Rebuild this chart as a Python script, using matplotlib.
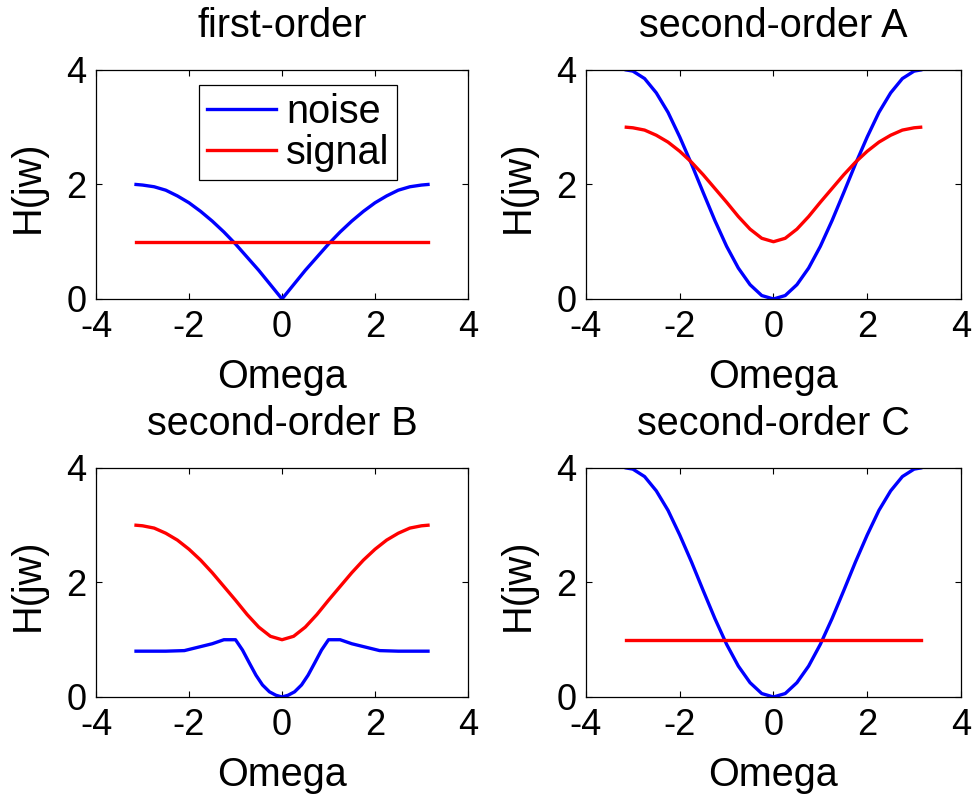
import matplotlib
matplotlib.use("Agg")
import matplotlib.pyplot as plt

plt.rcParams['font.family'] = ['Liberation Sans', 'DejaVu Sans']
plt.rcParams['axes.unicode_minus'] = False

# ---- data ----
omega = [-3.14, -3.0, -2.75, -2.5, -2.25, -2.0, -1.75, -1.5, -1.25, -1.0, -0.75, -0.5, -0.25, 0.0,
         0.25, 0.5, 0.75, 1.0, 1.25, 1.5, 1.75, 2.0, 2.25, 2.5, 2.75, 3.0, 3.14]

noise_first = [2.00, 1.99, 1.96, 1.90, 1.80, 1.68, 1.53, 1.36, 1.17, 0.96, 0.73, 0.50, 0.25, 0.00,
               0.25, 0.50, 0.73, 0.96, 1.17, 1.36, 1.53, 1.68, 1.80, 1.90, 1.96, 1.99, 2.00]
signal_first = [1.0] * len(omega)

noise_A = [4.00, 3.98, 3.85, 3.60, 3.26, 2.83, 2.36, 1.86, 1.37, 0.92, 0.54, 0.25, 0.06, 0.00,
           0.06, 0.25, 0.54, 0.92, 1.37, 1.86, 2.36, 2.83, 3.26, 3.60, 3.85, 3.98, 4.00]
signal_A = [3.00, 2.99, 2.95, 2.86, 2.74, 2.58, 2.39, 2.17, 1.93, 1.69, 1.44, 1.22, 1.06, 1.00,
            1.06, 1.22, 1.44, 1.69, 1.93, 2.17, 2.39, 2.58, 2.74, 2.86, 2.95, 2.99, 3.00]

omega_B_noise = [-3.14, -2.5, -2.1, -1.8, -1.5, -1.25, -1.0, -0.85, -0.7, -0.56, -0.42, -0.27, -0.13, 0.0,
                 0.13, 0.27, 0.42, 0.56, 0.7, 0.85, 1.0, 1.25, 1.5, 1.8, 2.1, 2.5, 3.14]
noise_B = [0.80, 0.80, 0.81, 0.87, 0.93, 1.00, 1.00, 0.82, 0.59, 0.38, 0.21, 0.09, 0.03, 0.00,
           0.03, 0.09, 0.21, 0.38, 0.59, 0.82, 1.00, 1.00, 0.93, 0.87, 0.81, 0.80, 0.80]
signal_B = signal_A

noise_C = noise_A
signal_C = [1.0] * len(omega)

titles = ["first-order", "second-order A", "second-order B", "second-order C"]
xticks = [-4, -2, 0, 2, 4]
yticks = [0, 2, 4]

panels = [
    (omega, noise_first, omega, signal_first),
    (omega, noise_A, omega, signal_A),
    (omega_B_noise, noise_B, omega, signal_B),
    (omega, noise_C, omega, signal_C),
]

rects = [
    [0.0984, 0.6244, 0.3811, 0.2877],
    [0.6004, 0.6244, 0.3842, 0.2877],
    [0.0984, 0.1244, 0.3811, 0.2877],
    [0.6004, 0.1244, 0.3842, 0.2877],
]

fig = plt.figure(figsize=(9.76, 7.96), dpi=100)

LABEL_FS = 28.5
TICK_FS = 26
LW = 2.4

for i, (rect, title, (xn, yn, xs, ys)) in enumerate(zip(rects, titles, panels)):
    ax = fig.add_axes(rect)
    ax.plot(xn, yn, color=(0, 0, 1), lw=LW, label="noise")
    ax.plot(xs, ys, color=(1, 0, 0), lw=LW, label="signal")
    ax.set_xlim(-4, 4)
    ax.set_ylim(0, 4)
    ax.set_xticks(xticks)
    ax.set_yticks(yticks)
    ax.tick_params(direction='in', top=True, right=True, length=4, width=0.8,
                   labelsize=TICK_FS)
    ax.tick_params(axis='x', pad=8)
    ax.tick_params(axis='y', pad=7)
    for sp in ax.spines.values():
        sp.set_linewidth(0.9)
        sp.set_color('black')
    ax.set_xlabel("Omega", fontsize=LABEL_FS, va='baseline')
    ax.xaxis.set_label_coords(0.5, -0.389)
    ax.set_ylabel("H(jw)", fontsize=LABEL_FS, va='center')
    ax.yaxis.set_label_coords(-0.183, 0.49)
    ax.set_title(title, fontsize=LABEL_FS, y=1.144, va='baseline', pad=0)
    if i == 0:
        leg = ax.legend(loc='upper left', bbox_to_anchor=(0.277, 0.934),
                        borderaxespad=0, fontsize=LABEL_FS, fancybox=False,
                        edgecolor='black', framealpha=1, handlelength=1.75,
                        handletextpad=0.25, borderpad=0.2, labelspacing=0.08)
        leg.get_frame().set_linewidth(0.9)

fig.savefig("out.png", dpi=100)
